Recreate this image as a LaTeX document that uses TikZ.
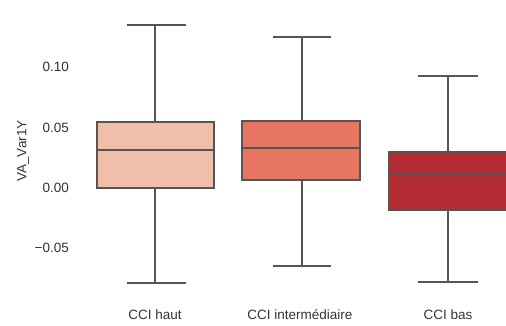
\documentclass[tikz,border=0pt]{standalone}
\usepackage{fontspec}
\setmainfont{Liberation Sans}
\definecolor{linegray}{HTML}{555555}
\definecolor{boxA}{HTML}{F0BFAA}
\definecolor{boxB}{HTML}{E6765F}
\definecolor{boxC}{HTML}{B52B33}
\definecolor{txtgray}{HTML}{333333}
\tikzset{
  bx/.style={draw=linegray, line width=1.6pt},
  wh/.style={draw=linegray, line width=1.6pt},
  lbl/.style={font=\fontsize{13.5}{16}\selectfont, text=txtgray, inner sep=0pt},
  tick/.style={lbl, anchor=east},
  cat/.style={lbl, anchor=center},
}
\begin{document}
\begin{tikzpicture}[x=1pt,y=-1pt]
\useasboundingbox (0,0) rectangle (506,326);
% box 1
\draw[wh] (155,25) -- (155,122) (155,188) -- (155,283);
\draw[wh] (127,25) -- (186,25) (127,283) -- (186,283);
\filldraw[bx, fill=boxA] (97,122) rectangle (214,188);
\draw[bx] (97,150) -- (214,150);
% box 2
\draw[wh] (302,37) -- (302,121) (302,180) -- (302,266);
\draw[wh] (273,37) -- (331,37) (273,266) -- (331,266);
\filldraw[bx, fill=boxB] (242,121) rectangle (360,180);
\draw[bx] (242,148) -- (360,148);
% box 3
\draw[wh] (448,76) -- (448,152) (448,210) -- (448,282);
\draw[wh] (418,76) -- (478,76) (418,282) -- (478,282);
\filldraw[bx, fill=boxC] (389,152) rectangle (508,210);
\draw[bx] (389,175) -- (508,175);
% y ticks
\node[tick] (t1) at (69,67) {0.10};
\node[tick] (t2) at (69,127.5) {0.05};
\node[tick] (t3) at (69,188) {0.00};
\node[tick] (t4) at (69,248) {\char"2212 0.05};
\node[lbl, rotate=90] (yl) at (23,151) {VA\_Var1Y};
% categories
\node[cat] (c1) at (155,315) {CCI haut};
\node[cat] (c2) at (300,315) {CCI intermédiaire};
\node[cat] (c3) at (448,315) {CCI bas};
\end{tikzpicture}
\end{document}
